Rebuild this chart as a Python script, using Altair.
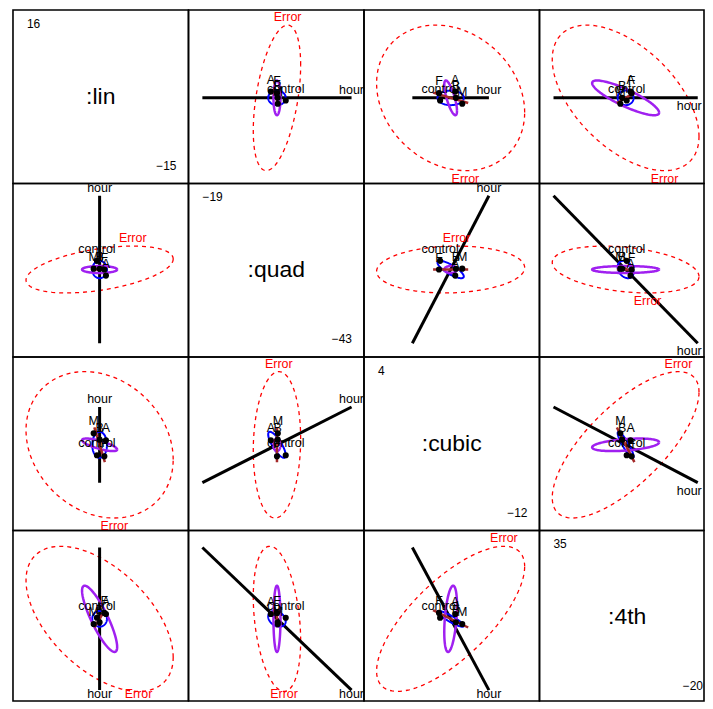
import altair as alt
import numpy as np
import pandas as pd

variables = [":lin", ":quad", ":cubic", ":4th"]
var_min = [-15, -43, -12, -20]
var_max = [16, -19, 4, 35]
grand_mean = [0.3, -30.9, -4.1, 7.0]

# Error ellipse: half extent of each response, pairwise correlations
error_sd = [13.0, 3.24, 6.75, 23.0]
error_r = {(0, 1): 0.45, (0, 2): -0.2, (0, 3): -0.53, (1, 2): 0.08, (1, 3): -0.3, (2, 3): 0.72}

# treatment ellipse (blue)
treat_sd = [1.3, 1.2, 1.2, 2.5]
treat_r = {(0, 1): 0.0, (0, 2): 0.0, (0, 3): 0.0, (1, 2): -0.8, (1, 3): -0.3, (2, 3): -0.9}

# treatment:sex ellipse (purple)
inter_sd = [3.1, 0.48, 0.58, 10.5]
inter_r = {(0, 1): 0.0, (0, 2): -0.75, (0, 3): -0.85, (1, 2): 0.0, (1, 3): 0.0, (2, 3): 0.4}

# one-df terms drawn as lines: half lengths per response
hour_dir = [0.0, 10.2, 3.49, -22.6]
sex_dir = [-0.93, 0.0, 1.6, -2.75]

# group means, as offsets from the grand mean
mean_labels = ["control", "A", "B", "F", "M"]
mean_lin = [-0.47, 1.12, 0.0, 0.84, -1.05]
mean_quad = [1.2, -0.84, 0.1, 0.0, 0.12]
mean_cubic = [-0.96, 0.42, 0.48, -1.06, 1.06]
mean_4th = [0.33, 1.54, -1.1, 1.87, -1.65]
means = [mean_lin, mean_quad, mean_cubic, mean_4th]

# where "Error" sits on each panel: 1 = top of ellipse, -1 = bottom
error_side = [
    [0, 1, -1, -1],
    [1, 0, 1, -1],
    [-1, 1, 0, 1],
    [-1, -1, 1, 0],
]
# which end of the hour line gets the label, and above (1) / below (-1)
hour_end = [
    [0, 1, 1, -1],
    [1, 0, 1, -1],
    [1, 1, 0, -1],
    [1, 1, 1, 0],
]
hour_side = [
    [0, 1, 1, -1],
    [1, 0, 1, -1],
    [1, 1, 0, -1],
    [-1, -1, -1, 0],
]

FONT = "Liberation Sans"
FULL_W, FULL_H = 176, 174
# the last column and row run off the page edge, so they are cut short
col_w = [176, 176, 176, 165]
row_h = [174, 174, 174, 171]


def corr(table, a, b):
    return table[(min(a, b), max(a, b))]


def ellipse_frame(cx, cy, sx, sy, r, n=120):
    t = np.linspace(0, 2 * np.pi, n)
    return pd.DataFrame({
        "x": cx + sx * np.cos(t),
        "y": cy + sy * (r * np.cos(t) + np.sqrt(1 - r * r) * np.sin(t)),
        "i": np.arange(n),
    })


def fmt(v):
    return str(v).replace("-", "\u2212")


def panel(row, col):
    span_x = var_max[col] - var_min[col]
    span_y = var_max[row] - var_min[row]
    xs = alt.Scale(domain=[var_min[col], var_min[col] + span_x * col_w[col] / FULL_W],
                   nice=False, zero=False)
    ys = alt.Scale(domain=[var_max[row] - span_y * row_h[row] / FULL_H, var_max[row]],
                   nice=False, zero=False)
    x = alt.X("x:Q", scale=xs, axis=None)
    y = alt.Y("y:Q", scale=ys, axis=None)
    size = dict(width=col_w[col], height=row_h[row])

    if row == col:
        mid = pd.DataFrame({"x": [(var_min[col] + var_max[col]) / 2],
                            "y": [(var_min[row] + var_max[row]) / 2], "t": [variables[row]]})
        top = pd.DataFrame({"x": [var_min[col]], "y": [var_max[row]], "t": [fmt(var_max[row])]})
        bottom = pd.DataFrame({"x": [var_max[col]], "y": [var_min[row]], "t": [fmt(var_min[row])]})
        name = alt.Chart(mid).mark_text(font=FONT, fontSize=23, baseline="middle").encode(
            x=x, y=y, text="t:N")
        hi = alt.Chart(top).mark_text(font=FONT, fontSize=12, align="left", baseline="middle",
                                      dx=14, dy=14).encode(x=x, y=y, text="t:N")
        lo = alt.Chart(bottom).mark_text(font=FONT, fontSize=12, align="right", baseline="middle",
                                         dx=-12, dy=-18).encode(x=x, y=y, text="t:N")
        return alt.layer(name, hi, lo).properties(**size)

    cx, cy = grand_mean[col], grand_mean[row]

    err = ellipse_frame(cx, cy, error_sd[col], error_sd[row], corr(error_r, row, col))
    treat = ellipse_frame(cx, cy, treat_sd[col], treat_sd[row], corr(treat_r, row, col))
    inter = ellipse_frame(cx, cy, inter_sd[col], inter_sd[row], corr(inter_r, row, col))
    hour = pd.DataFrame({"x": [cx - hour_dir[col], cx + hour_dir[col]],
                         "y": [cy - hour_dir[row], cy + hour_dir[row]], "i": [0, 1]})
    sex = pd.DataFrame({"x": [cx - sex_dir[col], cx + sex_dir[col]],
                        "y": [cy - sex_dir[row], cy + sex_dir[row]], "i": [0, 1]})
    pts = pd.DataFrame({"x": [cx + v for v in means[col]],
                        "y": [cy + v for v in means[row]], "t": mean_labels})

    s = error_side[row][col]
    r_e = corr(error_r, row, col)
    err_lab = pd.DataFrame({"x": [cx + s * r_e * error_sd[col]], "y": [cy + s * error_sd[row]],
                            "t": ["Error"]})
    e = hour_end[row][col]
    hour_lab = pd.DataFrame({"x": [cx + e * hour_dir[col]], "y": [cy + e * hour_dir[row]],
                             "t": ["hour"]})
    # labels near the cut right / bottom edges are pulled inside
    hour_pos = dict(align="right", dx=4) if col == 3 else dict(align="center")
    err_dy = -8 * s
    hour_dy = -8 * hour_side[row][col]
    if row == 3:
        err_dy = min(err_dy, 3)
        hour_dy = min(hour_dy, 4)

    def line(df, **kw):
        return alt.Chart(df).mark_line(clip=True, **kw).encode(x=x, y=y, order="i:Q")

    def label(df, **kw):
        return alt.Chart(df).mark_text(font=FONT, fontSize=12.5, baseline="middle", clip=True,
                                       **kw).encode(x=x, y=y, text="t:N")

    layers = [
        line(err, color="#FF0000", strokeWidth=1.3, strokeDash=[4, 4]),
        line(hour, color="black", strokeWidth=3),
        line(treat, color="#0000FF", strokeWidth=2),
        line(inter, color="#A020F0", strokeWidth=2.5),
        line(sex, color="#A52A2A", strokeWidth=2.5),
        alt.Chart(pts).mark_circle(color="black", size=38, opacity=1, clip=True).encode(x=x, y=y),
        label(pts, dy=-12, color="black"),
        label(err_lab, dy=err_dy, color="#FF0000"),
        label(hour_lab, dy=hour_dy, color="black", **hour_pos),
    ]
    return alt.layer(*layers).properties(**size)


panels = [panel(r, c) for r in range(4) for c in range(4)]
chart = (
    alt.concat(*panels, columns=4, spacing=0, bounds="flush")
    .properties(padding={"left": 4, "top": 0, "right": 0, "bottom": 0})
    .configure_view(stroke="black", strokeWidth=1.6)
)

chart.save("out.html", embed_options={"renderer": "svg", "actions": False})
